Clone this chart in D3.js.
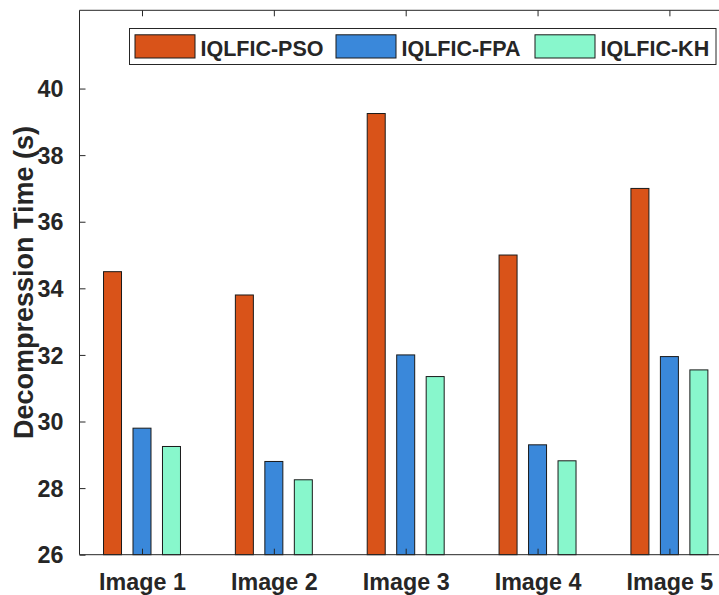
<!DOCTYPE html>
<html><head><meta charset="utf-8">
<script src="https://cdn.jsdelivr.net/npm/d3@7"></script>
<style>body{margin:0;background:#fff}svg{display:block}text{font-family:"Liberation Sans",Arial,Helvetica,sans-serif;font-weight:bold;fill:#262626}</style>
</head><body><svg id="c" width="719" height="595"></svg>
<script>
const categories = ["Image 1","Image 2","Image 3","Image 4","Image 5"];
const seriesNames = ["IQLFIC-PSO","IQLFIC-FPA","IQLFIC-KH"];
const psoValues = [34.5, 33.8, 39.25, 35.0, 37.0];
const fpaValues = [29.8, 28.8, 32.0, 29.3, 31.95];
const khValues  = [29.25, 28.25, 31.35, 28.82, 31.55];
const yTicks = [26,28,30,32,34,36,38,40];
const colors = ["#D95319","#3A88DA","#88F7CC"];

(function(){
const series = [psoValues, fpaValues, khValues];
const svg = d3.select("#c");
const pLeft = 79.5, pTop = 10.3, pBottom = 554.7, unit = 131.85;
const x = d3.scaleLinear().domain([0.526, 5.5]).range([pLeft, pLeft + unit*(5.5-0.526)]);
const y = d3.scaleLinear().domain([26, 42.35]).range([pBottom, pTop]);
const offsets = [-0.2236, 0, 0.2236];
const barW = 0.1365;

const gBars = svg.append("g");
series.forEach((vals, s) => {
  gBars.selectAll(null).data(vals).enter().append("rect")
    .attr("x", (d,i) => x(i+1+offsets[s]-barW/2))
    .attr("width", x(barW) - x(0))
    .attr("y", d => y(d))
    .attr("height", d => y(26) - y(d))
    .attr("fill", colors[s])
    .attr("stroke", "#1a1a1a").attr("stroke-width", 1);
});

const axisColor = "#262626";
const yAxis = d3.axisLeft(y).tickValues(yTicks).tickSize(-6).tickPadding(16).tickFormat(d3.format("d"));
const gy = svg.append("g").attr("transform", `translate(${pLeft},0)`).call(yAxis);
gy.select(".domain").remove();
gy.selectAll(".tick line").attr("stroke", axisColor);
gy.selectAll("text").style("font-size","23.3px").attr("dy","0.35em").attr("fill","#262626");

const xAxis = d3.axisBottom(x).tickValues([1,2,3,4,5]).tickSize(-6).tickPadding(0).tickFormat((d,i)=>categories[i]);
const gx = svg.append("g").attr("transform", `translate(0,${pBottom})`).call(xAxis);
gx.select(".domain").remove();
gx.selectAll(".tick line").attr("stroke", axisColor);
gx.selectAll("text").style("font-size","23.3px").attr("dy",null).attr("y", 35.5).attr("fill","#262626");

const xTop = d3.axisTop(x).tickValues([1,2,3,4,5]).tickSize(-6).tickFormat("");
const gxt = svg.append("g").attr("transform", `translate(0,${pTop})`).call(xTop);
gxt.select(".domain").remove();
gxt.selectAll(".tick line").attr("stroke", axisColor);

svg.append("line").attr("x1", x.range()[0]).attr("x2", x.range()[1]).attr("y1", pBottom).attr("y2", pBottom).attr("stroke", axisColor).attr("stroke-width",1);
svg.append("line").attr("x1", x.range()[0]).attr("x2", x.range()[1]).attr("y1", pTop).attr("y2", pTop).attr("stroke", axisColor).attr("stroke-width",1);
svg.append("line").attr("x1", pLeft).attr("x2", pLeft).attr("y1", pTop).attr("y2", pBottom).attr("stroke", axisColor).attr("stroke-width",1);

svg.append("text").attr("transform", `translate(33,${(pTop+pBottom)/2}) rotate(-90)`)
  .attr("text-anchor","middle").style("font-size","27px").text("Decompression Time (s)");

const lg = svg.append("g");
lg.append("rect").attr("x",129.5).attr("y",28.5).attr("width",586.5).attr("height",36)
  .attr("fill","#fff").attr("stroke","#262626").attr("stroke-width",1);
const legX = [135, 336, 535];
seriesNames.forEach((n,i) => {
  lg.append("rect").attr("x",legX[i]).attr("y",34.8).attr("width",60).attr("height",23.2)
    .attr("fill",colors[i]).attr("stroke","#1a1a1a").attr("stroke-width",1);
  lg.append("text").attr("x",legX[i]+65.5).attr("y",55.8).style("font-size","21.5px").text(n);
});
})();
</script></body></html>
